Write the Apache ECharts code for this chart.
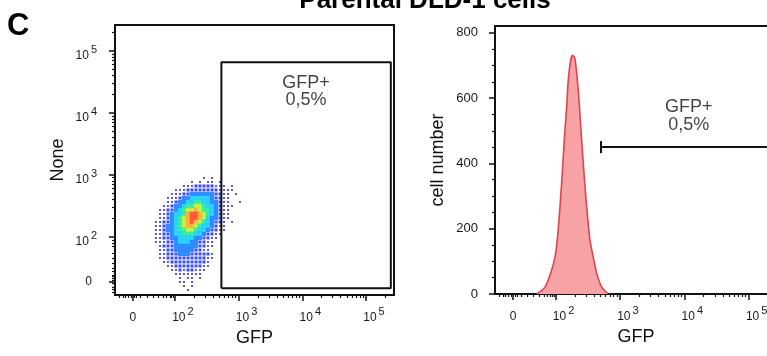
<!DOCTYPE html>
<html>
<head>
<meta charset="utf-8">
<script src="https://cdn.jsdelivr.net/npm/echarts@6/dist/echarts.min.js"></script>
<style>
html, body { margin: 0; padding: 0; background: #fff; }
#chart { width: 767px; height: 356px; }
</style>
</head>
<body>
<div id="chart"></div>
<script>
// axis positions are in "display decades": 2 = 10^2, 3 = 10^3 ... (biexponential scale)
const xMajor = [1.34, 2, 3, 4, 5];
const xMajorText = ['0', '10^2', '10^3', '10^4', '10^5'];
const yMajorDot = [1.27, 2, 3, 4, 5];
const yMajorDotText = ['0', '10^2', '10^3', '10^4', '10^5'];
const countMajor = [0, 200, 400, 600, 800];
// minor ticks in the linear part around zero
const xLinMinor = [1.12, 1.19, 1.22, 1.27, 1.32, 1.37, 1.40, 1.46, 1.56, 1.66, 1.74, 1.82, 1.87, 1.92, 1.95, 1.975];
const yLinMinor = [1.10, 1.15, 1.19, 1.25, 1.30, 1.33, 1.36, 1.38, 1.44, 1.49, 1.57, 1.65, 1.73, 1.84, 1.90, 1.95];

// dot plot density, 0 = empty, 1 = sparse ... 8 = densest
const densX0 = 1.641, densDX = 0.0628;   // GFP of first column, column step
const densY0 = 2.950, densDY = 0.0646;   // None of first row, row step
const densRows = [
  "00000000000001010000000",
  "00000000001010110100000",
  "00000000111222221110100",
  "00000011122222222111100",
  "00000111223333332211010",
  "00001112334444432211000",
  "00001123344554433211001",
  "00011233455665443211100",
  "00112234566765543211000",
  "00112344578876543211000",
  "00112345678876433211000",
  "01122345678765432210100",
  "01123345677654432110000",
  "01123345566544322110000",
  "01122344555443221100000",
  "01122334444332211000000",
  "01112234443322110000000",
  "00122233333322110000000",
  "00112233333221100000000",
  "00112223332222210000000",
  "00112222222222110000000",
  "00011222222222100000000",
  "00001122222221100000000",
  "00000112122111000000000",
  "00000011111110000000000",
  "00000001011010000000000",
  "00000001101000000000000",
  "00000000101000000000000",
  "00000000010000000000000"
];
const dotGateX = [2.73, 5.39];
const dotGateY = [1.17, 4.82];

// histogram
const histGFP = [1.712, 1.836, 1.925, 1.992, 2.027, 2.069, 2.105, 2.136, 2.173, 2.198, 2.235, 2.267,
                 2.302, 2.353, 2.406, 2.442, 2.484, 2.535, 2.586, 2.639, 2.717, 2.819];
const histCount = [0, 21, 64, 113, 165, 266, 370, 471, 573, 655, 716, 731,
                   721, 624, 471, 370, 266, 165, 113, 64, 21, 0];
const histGateX = [2.706, 5.6];
const histGateCount = 450;
const gateLabel = 'GFP+\n0,5%';

const FONT = 'Arial, "Liberation Sans", Helvetica, sans-serif';
const INK = '#111';
const dotColors = [null, '#2b2bd0', '#0a1eff', '#0070ff', '#00c8ff', '#10e890', '#b8f020', '#ffa020', '#ff3a10'];
const dotSizes = [0, 2, 3, 4.2, 4.6, 4.6, 4.6, 4.6, 4.6];

var myChart = echarts.init(document.getElementById('chart'));

function logMinor(hi) {
    let out = [];
    for (let d = 2; d <= 5; d++) {
        for (let k = 2; k <= 9; k++) {
            let v = d + Math.log10(k);
            if (v < hi) out.push(v);
        }
    }
    return out;
}

let densData = [];
densRows.forEach((row, r) => {
    for (let c = 0; c < row.length; c++) {
        let l = +row[c];
        if (l) densData.push([densX0 + c * densDX, densY0 - r * densDY, l]);
    }
});

let histData = histGFP.map((x, i) => [x, histCount[i]]);

function decadeText(major, text) {
    return function (v) {
        let i = major.findIndex(m => Math.abs(m - v) < 0.005);
        let t = i < 0 ? '' : text[i];
        if (t === '0') return '{z|0}';
        return t.replace(/10\^(\d)/, '{b|10}{s|$1}');
    };
}

const xRich = {
    z: { fontSize: 12, lineHeight: 24, color: '#1a1a1a', fontFamily: FONT },
    b: { fontSize: 12, padding: [0, 0, 0, 16], color: '#1a1a1a', fontFamily: FONT },
    s: { fontSize: 11, padding: [0, 0, 12, 2], color: '#1a1a1a', fontFamily: FONT }
};
const yRich = {
    z: { fontSize: 12, padding: [0, 5, 0, 0], color: '#1a1a1a', fontFamily: FONT },
    b: { fontSize: 12, padding: [10, 0, 0, 0], color: '#1a1a1a', fontFamily: FONT },
    s: { fontSize: 11, padding: [0, 0, 2, 2], color: '#1a1a1a', fontFamily: FONT }
};
const nameStyle = { fontSize: 18, color: INK, fontFamily: FONT };
const axisLine = { show: true, onZero: false, lineStyle: { color: INK, width: 2 } };

function majorX(grid, min, max) {
    return {
        type: 'value', gridIndex: grid, position: 'bottom', min: min, max: max,
        axisLine: axisLine,
        axisTick: { customValues: xMajor, length: 6, lineStyle: { color: INK, width: 1.5 } },
        axisLabel: { customValues: xMajor, formatter: decadeText(xMajor, xMajorText), rich: xRich, margin: 11 },
        splitLine: { show: false },
        name: 'GFP', nameLocation: 'middle', nameGap: 34, nameTextStyle: nameStyle
    };
}
function minorAxis(grid, pos, min, max, ticks) {
    return {
        type: 'value', gridIndex: grid, position: pos, min: min, max: max,
        axisLine: { show: false },
        axisTick: { customValues: ticks, length: 3, lineStyle: { color: INK, width: 1.2 } },
        axisLabel: { show: false },
        splitLine: { show: false }
    };
}

myChart.setOption({
    animation: false,
    backgroundColor: '#fff',
    textStyle: { fontFamily: FONT },
    graphic: [
        { type: 'text', x: 7, y: 26, style: { text: 'C', font: 'bold 31px ' + FONT, fill: '#000', verticalAlign: 'middle' } },
        { type: 'text', x: 425, y: 1, style: { text: 'Parental DLD-1 cells', font: 'bold 26px ' + FONT, fill: '#000', align: 'center', verticalAlign: 'middle' } }
    ],
    grid: [
        { left: 115, top: 25, width: 279, height: 270, show: true, borderColor: INK, borderWidth: 2, outerBoundsMode: 'none' },
        { left: 495, top: 26, width: 282, height: 268, show: true, borderColor: INK, borderWidth: 2, outerBoundsMode: 'none' }
    ],
    xAxis: [
        majorX(0, 1.06, 5.44),
        minorAxis(0, 'bottom', 1.06, 5.44, xLinMinor.concat(logMinor(5.44))),
        majorX(1, 1.06, 5.44),
        minorAxis(1, 'bottom', 1.06, 5.44, xLinMinor.concat(logMinor(5.44)))
    ],
    yAxis: [
        {
            type: 'value', gridIndex: 0, position: 'left', min: 1.06, max: 5.42,
            axisLine: axisLine,
            axisTick: { customValues: yMajorDot, length: 6, lineStyle: { color: INK, width: 1.5 } },
            axisLabel: { customValues: yMajorDot, formatter: decadeText(yMajorDot, yMajorDotText), rich: yRich, margin: 18 },
            splitLine: { show: false },
            name: 'None', nameLocation: 'middle', nameGap: 48, nameTextStyle: nameStyle
        },
        minorAxis(0, 'left', 1.06, 5.42, yLinMinor.concat(logMinor(5.42))),
        {
            type: 'value', gridIndex: 1, position: 'left', min: 0, max: 821,
            axisLine: axisLine,
            axisTick: { customValues: countMajor, length: 6, lineStyle: { color: INK, width: 1.5 } },
            axisLabel: { customValues: countMajor, fontSize: 13, color: '#1a1a1a', margin: 17 },
            splitLine: { show: false },
            name: 'cell number', nameLocation: 'middle', nameGap: 48, nameTextStyle: nameStyle
        },
        minorAxis(1, 'left', 0, 821, [50, 100, 150, 250, 300, 350, 450, 500, 550, 650, 700, 750])
    ],
    series: [
        {
            type: 'scatter', xAxisIndex: 0, yAxisIndex: 0, data: densData,
            symbol: 'rect',
            symbolSize: v => dotSizes[v[2]],
            itemStyle: { color: p => dotColors[p.value[2]] },
            silent: true
        },
        {
            // gate rectangle
            type: 'line', xAxisIndex: 0, yAxisIndex: 0, symbol: 'none', z: 5,
            data: [[dotGateX[0], dotGateY[0]], [dotGateX[1], dotGateY[0]], [dotGateX[1], dotGateY[1]],
                   [dotGateX[0], dotGateY[1]], [dotGateX[0], dotGateY[0]]],
            lineStyle: { color: INK, width: 2 }
        },
        {
            type: 'scatter', xAxisIndex: 0, yAxisIndex: 0, symbolSize: 0, z: 6,
            data: [[(dotGateX[0] + dotGateX[1]) / 2, dotGateY[1]]],
            label: { show: true, position: 'bottom', distance: 12, formatter: gateLabel,
                     fontSize: 18, lineHeight: 17, color: INK, fontFamily: FONT }
        },
        {
            type: 'line', xAxisIndex: 2, yAxisIndex: 2, data: histData,
            smooth: 0.25, symbol: 'none',
            lineStyle: { color: '#e0434c', width: 1.6 },
            areaStyle: { color: '#f7a2a5', opacity: 1 }
        },
        {
            // gate bracket
            type: 'line', xAxisIndex: 2, yAxisIndex: 2, z: 5,
            data: [
                { value: [histGateX[0], histGateCount], symbol: 'rect', symbolSize: [2, 12] },
                { value: [histGateX[1], histGateCount], symbol: 'none' }
            ],
            lineStyle: { color: INK, width: 2 },
            itemStyle: { color: INK }
        },
        {
            type: 'scatter', xAxisIndex: 2, yAxisIndex: 2, symbolSize: 0, z: 6,
            data: [[4.07, histGateCount]],
            label: { show: true, position: 'top', distance: 13, formatter: gateLabel,
                     fontSize: 18, lineHeight: 18, color: INK, fontFamily: FONT }
        }
    ]
});
</script>
</body>
</html>
